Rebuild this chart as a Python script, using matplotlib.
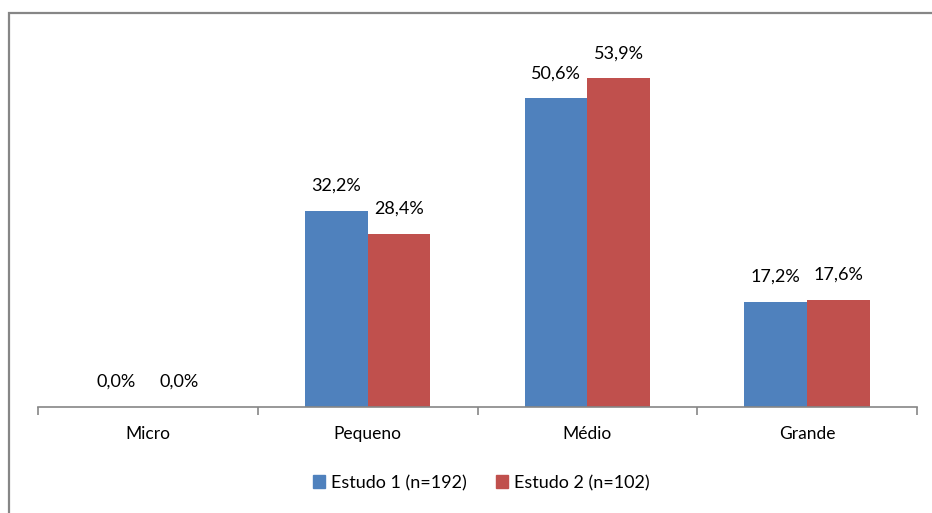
import matplotlib
matplotlib.use("Agg")
import matplotlib.pyplot as plt
from matplotlib.patches import Rectangle, Patch
import numpy as np

categories = ["Micro", "Pequeno", "Médio", "Grande"]
series_names = ["Estudo 1 (n=192)", "Estudo 2 (n=102)"]
estudo1 = [0.0, 32.2, 50.6, 17.2]
estudo2 = [0.0, 28.4, 53.9, 17.6]
colors = ["#4F81BD", "#C0504D"]

plt.rcParams["font.family"] = ["Lato", "DejaVu Sans"]

W, H = 932, 513
fig = plt.figure(figsize=(W / 100, H / 100), dpi=100)

# outer chart frame (left and top edges visible)
fig.patches.append(Rectangle((9 / W, -0.1), 1.2, (H - 13) / H + 0.1,
                             transform=fig.transFigure, fill=False,
                             edgecolor="#868686", linewidth=1.6))

ax = fig.add_axes([38 / W, (H - 407) / H, (917 - 38) / W, (407 - 41) / H])
x = np.arange(len(categories))
bw = 0.285

for vals, off, c, name in [(estudo1, -bw / 2, colors[0], series_names[0]),
                           (estudo2, bw / 2, colors[1], series_names[1])]:
    bars = ax.bar(x + off, vals, width=bw, color=c, label=name)
    for b, v in zip(bars, vals):
        ax.annotate(f"{v:.1f}%".replace(".", ","),
                    (b.get_x() + b.get_width() / 2, v),
                    xytext=(0, 18), textcoords="offset points",
                    ha="center", va="center", fontsize=13, color="#000000")

ax.set_xlim(-0.5, len(categories) - 0.5)
ax.set_ylim(0, 60)
for s in ["top", "right", "left"]:
    ax.spines[s].set_visible(False)
ax.spines["bottom"].set_color("#868686")
ax.spines["bottom"].set_linewidth(1.2)
ax.set_yticks([])
ax.set_xticks(np.arange(len(categories) + 1) - 0.5)
ax.set_xticklabels([])
ax.set_xticks(x, minor=True)
ax.set_xticklabels(categories, minor=True, fontsize=12.5)
ax.tick_params(axis="x", which="major", length=6, width=1.2, color="#868686")
ax.tick_params(axis="x", which="minor", length=0, pad=14)

handles = [Patch(color=colors[0], label=series_names[0]),
           Patch(color=colors[1], label=series_names[1])]
fig.legend(handles=handles, loc="center", bbox_to_anchor=(481 / W, 1 - 483 / H),
           ncol=2, frameon=False, fontsize=13, handlelength=0.7,
           handleheight=0.7, handletextpad=0.3, columnspacing=1.6)

fig.savefig("out.png", dpi=100)
